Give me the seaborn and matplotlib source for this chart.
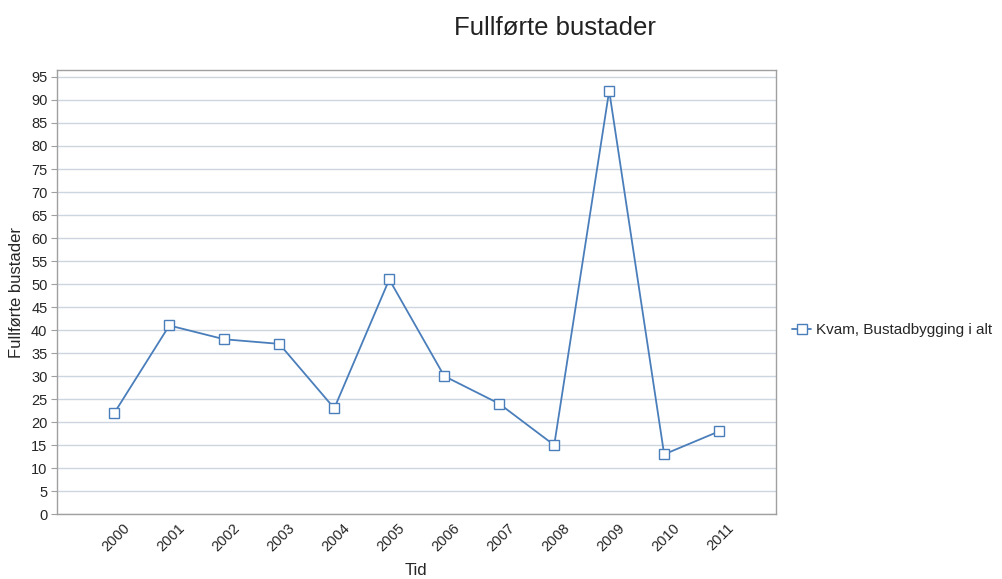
import matplotlib
matplotlib.use("Agg")
import matplotlib.pyplot as plt
import matplotlib.transforms as mtransforms
import seaborn as sns
import pandas as pd

years = ["2000", "2001", "2002", "2003", "2004", "2005",
         "2006", "2007", "2008", "2009", "2010", "2011"]
values = [22, 41, 38, 37, 23, 51, 30, 24, 15, 92, 13, 18]
series_name = "Kvam, Bustadbygging i alt"

df = pd.DataFrame({"Tid": years, "Fullførte bustader": values, "serie": series_name})

sns.set_style("white")
plt.rcParams["font.family"] = ["Liberation Sans", "DejaVu Sans"]

fig = plt.figure(figsize=(10.03, 5.79), dpi=100)
ax = fig.add_axes([0.057, 0.112, 0.717, 0.767])

sns.lineplot(data=df, x="Tid", y="Fullførte bustader", hue="serie",
             palette=["#4a7ebb"], marker="s", markersize=7,
             markerfacecolor="white", markeredgecolor="#4a7ebb",
             markeredgewidth=1.0, linewidth=1.3, ax=ax, sort=False)

ax.set_ylim(0, 96.5)
ax.set_xlim(-1.04, 12.04)
ax.set_yticks(range(0, 96, 5))
ax.yaxis.grid(True, color="#cdd5e0", linewidth=1)
ax.set_axisbelow(True)
for s in ax.spines.values():
    s.set_color("#a0a0a0")
    s.set_linewidth(1)

ax.tick_params(axis="y", left=True, length=4, color="#a0a0a0", labelsize=10.5, pad=3)
ax.tick_params(axis="x", bottom=False, labelsize=10.5, pad=4)
ax.set_xticks(range(len(years)))
ax.set_xticklabels(years, rotation=45, ha="right", va="top", rotation_mode="anchor")
# shift labels so their upper end sits under the tick
shift = mtransforms.ScaledTranslation(8 / 100, 4 / 100, fig.dpi_scale_trans)
for lbl in ax.get_xticklabels():
    lbl.set_transform(lbl.get_transform() + shift)

ax.set_xlabel("Tid", fontsize=12)
ax.set_ylabel("Fullførte bustader", fontsize=12)
ax.xaxis.set_label_coords(0.499, -0.11)
ax.yaxis.set_label_coords(-0.046, 0.5)

leg = ax.legend(loc="center left", bbox_to_anchor=(1.0, 0.414), frameon=False,
                fontsize=11, handlelength=1.3, handletextpad=0.3, borderaxespad=0.6)

fig.text(0.553, 0.952, "Fullførte bustader", ha="center", va="center",
         fontsize=18.5, color="#222222")

fig.savefig("out.png", dpi=100)
